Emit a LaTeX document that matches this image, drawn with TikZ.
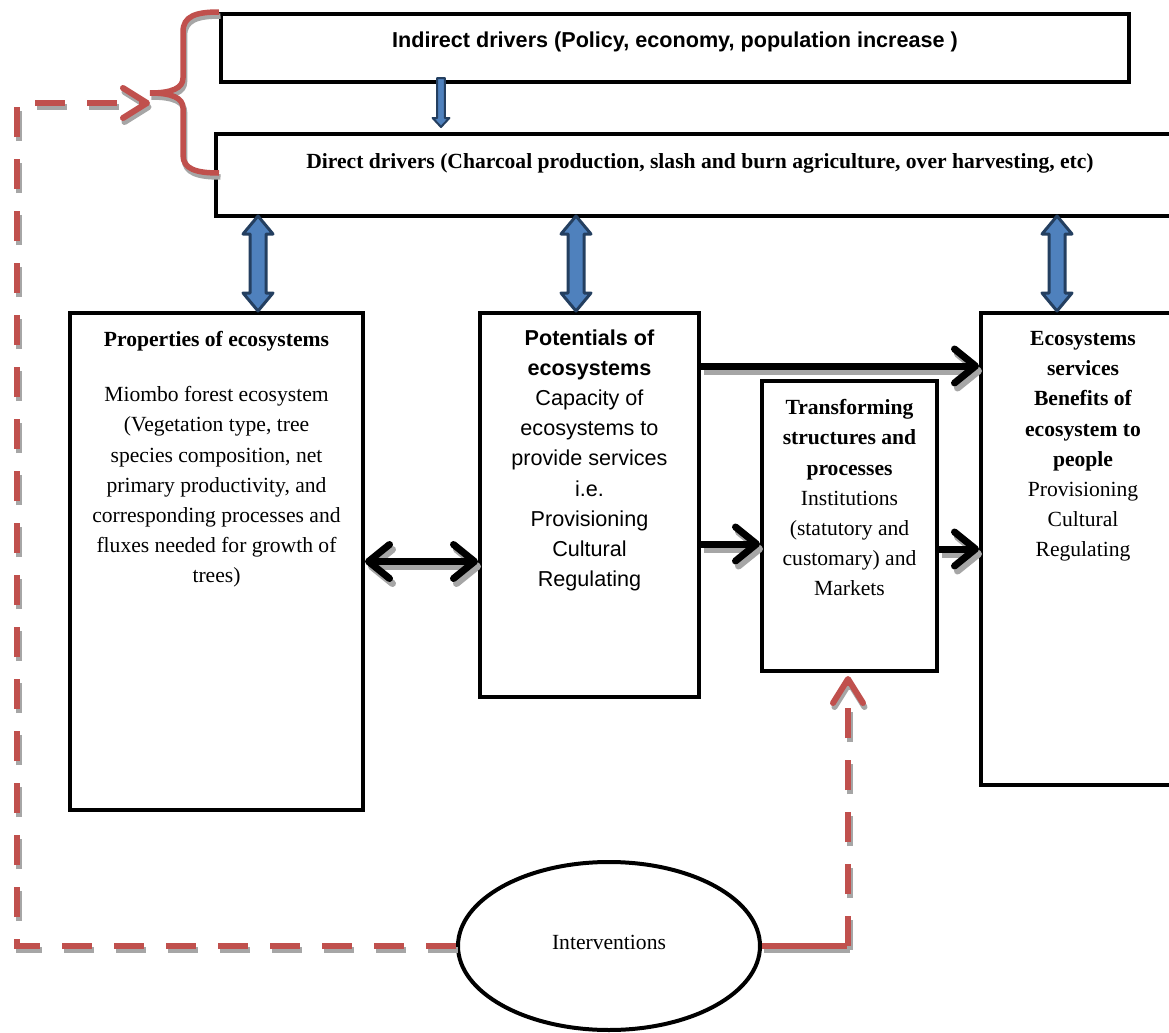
\documentclass[tikz,border=0pt]{standalone}
\usepackage{fontspec}
\setmainfont{Liberation Serif}
\newfontfamily\arialfont{Liberation Sans}
\usetikzlibrary{arrows.meta,calc,shapes.geometric}
\definecolor{redL}{HTML}{C0504D}
\definecolor{blueF}{HTML}{4F81BD}
\definecolor{blueD}{HTML}{243F60}
\definecolor{shadowG}{HTML}{A6A6A6}
\newcommand\bluedbl[2]{%
  \draw[bluearr] let \p1=(#1), \p2=(#2) in
    (\x1,\y1) -- (\x1+7.5pt,\y1-9pt) -- (\x1+4pt,\y1-9pt) -- (\x1+4pt,\y2+9pt)
    -- (\x1+7.5pt,\y2+9pt) -- (\x1,\y2) -- (\x1-7.5pt,\y2+9pt) -- (\x1-4pt,\y2+9pt)
    -- (\x1-4pt,\y1-9pt) -- (\x1-7.5pt,\y1-9pt) -- cycle;}
\newcommand\bluedown[2]{%
  \draw[bluearr, line width=1pt] let \p1=(#1), \p2=(#2) in
    (\x1-1.9pt,\y1) -- (\x1+1.9pt,\y1) -- (\x1+1.9pt,\y2+4.5pt) -- (\x1+4.2pt,\y2+4.5pt)
    -- (\x1,\y2) -- (\x1-4.2pt,\y2+4.5pt) -- (\x1-1.9pt,\y2+4.5pt) -- cycle;}
\begin{document}
\begin{tikzpicture}[x=0.5pt,y=-0.5pt,
  box/.style={draw=black, line width=2pt, fill=white, rectangle, inner sep=0pt, anchor=north west},
  txt/.style={anchor=north, align=center, inner sep=0pt, font=\fontsize{10.8}{15.1}\selectfont},
  bluearr/.style={draw=blueD, fill=blueF, line width=1.5pt, line join=round},
  barb/.style={-{Straight Barb[length=10.5pt,width=17pt,round]}},
  dbarb/.style={{Straight Barb[length=10.5pt,width=17pt,round]}-{Straight Barb[length=10.5pt,width=17pt,round]}},
  rbarb/.style={-{Straight Barb[length=12pt,width=15pt,round]}},
  dashpat/.style={dash pattern=on 15pt off 11pt},
  blk/.style={draw=black, line width=3.5pt, #1,
    preaction={draw=shadowG, line width=3.5pt, #1, transform canvas={shift={(1.5pt,-2.5pt)}}}},
  redl/.style={draw=redL, line width=3pt, #1,
    preaction={draw=shadowG, line width=3pt, #1, transform canvas={shift={(0.75pt,-2pt)}}}},
  redl/.default={solid}
]
\useasboundingbox (0,0) rectangle (1169,1033);
\clip (0,0) rectangle (1169,1033);
\fill[white] (0,0) rectangle (1169,1033);

% boxes
\node[box, minimum width=454pt, minimum height=34pt] (ind) at (219,12) {};
\node[box, minimum width=484pt, minimum height=41pt] (dir) at (214,132) {};
\node[box, minimum width=146.5pt, minimum height=248.5pt] (prop) at (68,311) {};
\node[box, minimum width=109.5pt, minimum height=192pt] (pot) at (478,311) {};
\node[box, minimum width=87.5pt, minimum height=145pt] (trans) at (760,379) {};
\node[box, minimum width=102pt, minimum height=236pt] (eco) at (979,311) {};
\node[draw=black, line width=2pt, fill=white, ellipse, inner sep=0pt,
      minimum width=151pt, minimum height=84pt] (ell) at (609,946) {};

% texts
\node[txt, font=\fontsize{10.8}{15.1}\selectfont\arialfont\bfseries] (indt) at ([yshift=-9.5pt]ind.north) {Indirect drivers (Policy, economy, population increase )};
\node[txt, font=\fontsize{10.8}{15.1}\selectfont\bfseries] (dirt) at ([yshift=-10.5pt]dir.north) {Direct drivers (Charcoal production, slash and burn agriculture, over harvesting, etc)};
\node[txt] (propt) at ([yshift=-10pt]prop.north) {\textbf{Properties of ecosystems}\\[12.4pt]
  Miombo forest ecosystem\\ (Vegetation type, tree\\ species composition, net\\
  primary productivity, and\\ corresponding processes and\\ fluxes needed for growth of\\ trees)};
\node[txt, font=\fontsize{10.8}{15.1}\selectfont\arialfont] (pott) at ([yshift=-9pt]pot.north) {\textbf{Potentials of}\\ \textbf{ecosystems}\\
  Capacity of\\ ecosystems to\\ provide services\\ i.e.\\ Provisioning\\ Cultural\\ Regulating};
\node[txt] (transt) at ([yshift=-10pt]trans.north) {\textbf{Transforming}\\ \textbf{structures and}\\ \textbf{processes}\\
  Institutions\\ (statutory and\\ customary) and\\ Markets};
\node[txt] (ecot) at ([yshift=-10pt]eco.north) {\textbf{Ecosystems}\\ \textbf{services}\\ \textbf{Benefits of}\\
  \textbf{ecosystem to}\\ \textbf{people}\\ Provisioning\\ Cultural\\ Regulating};
\node[font=\fontsize{10.8}{15.1}\selectfont, inner sep=0pt] (ellt) at ([yshift=2pt]ell.center) {Interventions};

% blue arrows
\coordinate (xa) at (258,0);
\coordinate (xb) at (576,0);
\coordinate (xc) at (1057,0);
\coordinate (xd) at (441,0);
\bluedbl{[yshift=1pt]dir.south -| xa}{prop.north -| xa}
\bluedbl{[yshift=1pt]dir.south -| xb}{pot.north -| xb}
\bluedbl{[yshift=1pt]dir.south -| xc}{eco.north -| xc}
\bluedown{[yshift=3pt]ind.south -| xd}{[yshift=2.5pt]dir.north -| xd}

% black arrows
\coordinate (c1) at ([yshift=-27.5pt]pot.north east);
\coordinate (c2) at ([yshift=-116.5pt]pot.north east);
\draw[blk=dbarb] (prop.east) -- (pot.west |- prop.east);
\draw[blk=barb] (c1) -- (eco.west |- c1);
\draw[blk=barb] (c2) -- (trans.west |- c2);
\draw[blk=barb] (trans.east |- eco.west) -- (eco.west);

% red brace
\coordinate (bt) at (150,93);
\coordinate (bb) at (219,173);
\draw[draw=redL, line width=2.75pt, preaction={draw=shadowG, line width=2.75pt, transform canvas={shift={(0.75pt,-2pt)}}}]
  (ind.north west) .. controls (196,12) and (183,16) .. (183,32) -- (183,78)
  .. controls (183,88) and (172,93) .. (bt) .. controls (172,93) and (183,98) .. (183,108)
  -- (183,155) .. controls (183,169) and (196,173) .. (bb);

% red connectors
\coordinate (lc) at (17,103);
\coordinate (rc) at (848,0);
\draw[redl={dashpat,rbarb}] (ell.west) -- (lc |- ell.west) -- (lc) -- (lc -| bt);
\draw[redl] (ell.east) -- (rc |- ell.east);
\draw[redl={dashpat,rbarb}] (rc |- ell.east) -- ([yshift=-1.5pt]trans.south -| rc);
\end{tikzpicture}
\end{document}
